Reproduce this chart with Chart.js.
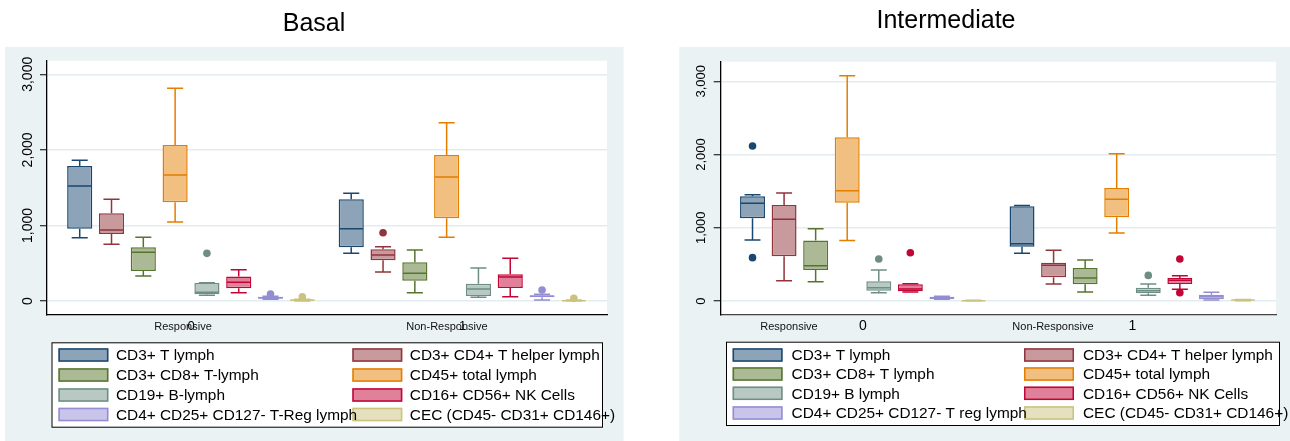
<!DOCTYPE html>
<html>
<head>
<meta charset="utf-8">
<script src="https://cdn.jsdelivr.net/npm/chart.js@4.4.1/dist/chart.umd.min.js"></script>
<style>
  html, body { margin: 0; padding: 0; background: #ffffff; }
  #wrap { position: relative; width: 1290px; height: 441px; overflow: hidden; }
  .panel { position: absolute; top: 0; width: 645px; height: 441px; }
</style>
</head>
<body>
<div id="wrap">
  <div class="panel" style="left:0"><canvas id="basal" width="645" height="441"></canvas></div>
  <div class="panel" style="left:645px"><canvas id="intermediate" width="645" height="441"></canvas></div>
</div>
<script>
// ---- categories and tick labels ----
const groupCodes = ['0', '1'];
const groupNames = ['Responsive', 'Non-Responsive'];
const yTickValues = [0, 1000, 2000, 3000];

const basalSeries = ['CD3+ T lymph', 'CD3+ CD4+ T helper lymph', 'CD3+ CD8+ T-lymph', 'CD45+ total lymph',
  'CD19+ B-lymph', 'CD16+ CD56+ NK Cells', 'CD4+ CD25+ CD127- T-Reg lymph', 'CEC (CD45- CD31+ CD146+)'];
const intermediateSeries = ['CD3+ T lymph', 'CD3+ CD4+ T helper lymph', 'CD3+ CD8+ T lymph', 'CD45+ total lymph',
  'CD19+ B lymph', 'CD16+ CD56+ NK Cells', 'CD4+ CD25+ CD127- T reg lymph', 'CEC (CD45- CD31+ CD146+)'];

// ---- box statistics: per group [lower whisker, Q1, median, Q3, upper whisker] ----
const basalCD3T   = [[838, 957, 1522, 1787, 1862], [631, 710, 957, 1345, 1425]];
const basalCD4Th  = [[750, 887, 940, 1160, 1345], [384, 538, 609, 684, 719]];
const basalCD8T   = [[331, 397, 644, 710, 843], [110, 269, 366, 512, 675]];
const basalCD45   = [[1045, 1306, 1667, 2064, 2814], [843, 1094, 1641, 1932, 2360]];
const basalCD19B  = [[75, 88, 115, 238, 243], [49, 66, 159, 229, 437]];
const basalNK     = [[110, 168, 247, 326, 415], [57, 172, 318, 353, 565]];
const basalTreg   = [[22, 30, 42, 55, 62], [13, 49, 62, 75, 88]];
const basalCEC    = [[0, 4, 12, 20, 25], [0, 0, 5, 9, 15]];
const basalOutliers = [[[], []], [[], [904]], [[], []], [[], []], [[631], []], [[], []], [[93], [146]], [[57], [35]]];

const interCD3T   = [[833, 1129, 1334, 1429, 1452], [651, 742, 783, 1293, 1306]];
const interCD4Th  = [[278, 610, 1115, 1311, 1475], [232, 323, 487, 523, 692]];
const interCD8T   = [[264, 423, 482, 828, 988], [123, 228, 314, 451, 560]];
const interCD45   = [[828, 1343, 1507, 2235, 3077], [929, 1143, 1388, 1543, 2012]];
const interCD19B  = [[114, 141, 182, 269, 423], [77, 105, 141, 182, 232]];
const interNK     = [[123, 132, 164, 228, 237], [159, 232, 282, 314, 346]];
const interTreg   = [[23, 28, 41, 59, 65], [14, 23, 59, 86, 118]];
const interCEC    = [[0, 2, 5, 8, 10], [5, 10, 14, 18, 22]];
const interOutliers = [[[2117, 592], []], [[], []], [[], []], [[], []], [[574], [350]], [[660], [574, 114]], [[], []], [[], []]];

const basalStats = [basalCD3T, basalCD4Th, basalCD8T, basalCD45, basalCD19B, basalNK, basalTreg, basalCEC];
const interStats = [interCD3T, interCD4Th, interCD8T, interCD45, interCD19B, interNK, interTreg, interCEC];

// ---- styling ----
const lineColors = ['#1a476f', '#90353b', '#55752f', '#e37e00', '#6e8e84', '#c10534', '#938dd2', '#cac27e'];
const fillColors = ['#8da3b8', '#c8999d', '#abba94', '#f1bf80', '#b8c8c2', '#e0809a', '#c9c5ea', '#e5e0be'];
const FONT = '"Liberation Sans", Arial, Helvetica, sans-serif';
const BG = '#eaf2f3';

function buildDatasets(labels, stats, outliers) {
  return labels.map((label, i) => ({
    label,
    data: stats[i].map((s, g) => ({ x: g, y: [s[1], s[3]] })),
    stats: stats[i],
    outliers: outliers[i],
    backgroundColor: fillColors[i],
    borderColor: lineColors[i],
    borderWidth: 1.5,
    borderSkipped: false,
    categoryPercentage: 0.937,
    barPercentage: 0.79
  }));
}

// whiskers, medians, outlying points, panel background, title and legend
const boxPlotPlugin = {
  id: 'boxPlot',
  beforeDraw(chart) {
    const p = chart.options.plugins.boxPlot;
    const { ctx, chartArea: a } = chart;
    ctx.save();
    ctx.fillStyle = BG;
    ctx.fillRect(p.panel[0], p.panel[1], p.panel[2], p.panel[3]);
    ctx.fillStyle = '#ffffff';
    ctx.fillRect(a.left, a.top, a.right - a.left, a.bottom - a.top);
    ctx.fillStyle = '#000';
    ctx.font = '25px ' + FONT;
    ctx.textAlign = 'center';
    ctx.textBaseline = 'alphabetic';
    ctx.fillText(p.title, p.titleAt[0], p.titleAt[1]);
    ctx.restore();
  },
  afterDatasetsDraw(chart) {
    const { ctx } = chart;
    const yScale = chart.scales.y;
    ctx.save();
    chart.data.datasets.forEach((ds, i) => {
      const meta = chart.getDatasetMeta(i);
      meta.data.forEach((bar, g) => {
        const [lo, q1, med, q3, hi] = ds.stats[g];
        const x = bar.x, w = bar.width, cap = w * 0.32;
        const py = v => yScale.getPixelForValue(v);
        ctx.strokeStyle = ds.borderColor;
        ctx.lineWidth = 1.5;
        ctx.beginPath();
        ctx.moveTo(x, py(q3)); ctx.lineTo(x, py(hi));
        ctx.moveTo(x - cap, py(hi)); ctx.lineTo(x + cap, py(hi));
        ctx.moveTo(x, py(q1)); ctx.lineTo(x, py(lo));
        ctx.moveTo(x - cap, py(lo)); ctx.lineTo(x + cap, py(lo));
        ctx.moveTo(x - w / 2 + 0.75, py(med)); ctx.lineTo(x + w / 2 - 0.75, py(med));
        ctx.stroke();
        ctx.fillStyle = ds.borderColor;
        ds.outliers[g].forEach(v => {
          ctx.beginPath();
          ctx.arc(x, py(v), 3.8, 0, Math.PI * 2);
          ctx.fill();
        });
      });
    });
    ctx.restore();
  },
  afterDraw(chart) {
    const p = chart.options.plugins.boxPlot;
    const { ctx } = chart;
    const xScale = chart.scales.x;
    ctx.save();
    // group names under the axis
    ctx.fillStyle = '#111';
    ctx.font = '11px ' + FONT;
    ctx.textAlign = 'center';
    ctx.textBaseline = 'middle';
    groupNames.forEach((name, g) => {
      ctx.fillText(name, xScale.getPixelForValue(p.groupNameAt[g]), p.groupNameY);
    });
    // legend
    const L = p.legend;
    ctx.fillStyle = '#ffffff';
    ctx.fillRect(L.box[0], L.box[1], L.box[2], L.box[3]);
    ctx.strokeStyle = '#000';
    ctx.lineWidth = 1;
    ctx.strokeRect(L.box[0] + 0.5, L.box[1] + 0.5, L.box[2], L.box[3]);
    const items = chart.data.datasets;
    const sw = 50, sh = 13.5;
    items.forEach((ds, i) => {
      const sx = L.cols[i % 2], cy = L.rows[Math.floor(i / 2)];
      ctx.fillStyle = ds.backgroundColor;
      ctx.fillRect(sx, cy - sh / 2, sw, sh);
      ctx.strokeStyle = ds.borderColor;
      ctx.lineWidth = 1.5;
      ctx.strokeRect(sx + 0.75, cy - sh / 2 + 0.75, sw - 1.5, sh - 1.5);
    });
    ctx.fillStyle = '#000';
    ctx.font = '15.4px ' + FONT;
    ctx.textAlign = 'left';
    ctx.textBaseline = 'middle';
    items.forEach((ds, i) => {
      const sx = L.cols[i % 2], cy = L.rows[Math.floor(i / 2)];
      ctx.fillText(ds.label, sx + L.textDx, cy + 1);
    });
    ctx.restore();
  }
};

function makeChart(id, cfg) {
  return new Chart(document.getElementById(id), {
    type: 'bar',
    data: { datasets: buildDatasets(cfg.series, cfg.stats, cfg.outliers) },
    plugins: [boxPlotPlugin],
    options: {
      responsive: false,
      devicePixelRatio: 1,
      animation: false,
      events: [],
      layout: { padding: { left: 0, top: cfg.area.top, right: cfg.area.right, bottom: 0 } },
      plugins: {
        legend: { display: false },
        title: { display: false },
        tooltip: { enabled: false },
        boxPlot: cfg.decor
      },
      scales: {
        x: {
          type: 'linear',
          min: cfg.xRange[0],
          max: cfg.xRange[1],
          offset: false,
          afterBuildTicks: s => { s.ticks = groupCodes.map((c, i) => ({ value: i })); },
          afterFit: s => { s.height = cfg.area.xHeight; },
          grid: { display: false, drawTicks: false },
          border: { display: true, color: cfg.xAxisColor, width: 1.3 },
          ticks: {
            includeBounds: false,
            padding: cfg.xTickPad,
            color: '#000',
            font: { family: FONT, size: cfg.xTickSize },
            callback: v => groupCodes[v]
          }
        },
        y: {
          type: 'linear',
          min: cfg.yRange[0],
          max: cfg.yRange[1],
          afterBuildTicks: s => { s.ticks = yTickValues.map(v => ({ value: v })); },
          afterFit: s => { s.width = cfg.area.left; },
          grid: { color: '#e3ecee', lineWidth: 1.5, tickColor: '#000', tickWidth: 1, tickLength: 7 },
          border: { display: true, color: '#000', width: 1.3 },
          ticks: {
            minRotation: 90,
            maxRotation: 90,
            crossAlign: 'center',
            padding: cfg.yTickPad,
            color: '#000',
            font: { family: FONT, size: cfg.yTickSize },
            callback: v => v.toLocaleString('en-US')
          }
        }
      }
    }
  });
}

makeChart('basal', {
  series: basalSeries,
  stats: basalStats,
  outliers: basalOutliers,
  area: { left: 47, top: 60.7, right: 38, xHeight: 126 },
  xRange: [-0.5304, 1.532],
  yRange: [-185, 3180],
  xTickPad: 4,
  xTickSize: 13,
  yTickPad: -5.8,
  yTickSize: 14,
  xAxisColor: '#000',
  decor: {
    panel: [5, 47, 618.5, 394],
    title: 'Basal',
    titleAt: [314, 31],
    groupNameAt: [-0.0295, 0.9426],
    groupNameY: 326.7,
    legend: { box: [51.5, 342.3, 550.5, 84.4], cols: [58.4, 352.3], rows: [355, 375, 395, 414.5], textDx: 57.5 }
  }
});

makeChart('intermediate', {
  series: intermediateSeries,
  stats: interStats,
  outliers: interOutliers,
  area: { left: 75.7, top: 61.7, right: 14, xHeight: 126 },
  xRange: [-0.528, 1.5325],
  yRange: [-191, 3268],
  xTickPad: 3,
  xTickSize: 14,
  yTickPad: -4.3,
  yTickSize: 13,
  xAxisColor: '#444',
  decor: {
    panel: [34.3, 47, 611, 394],
    title: 'Intermediate',
    titleAt: [301, 27.5],
    groupNameAt: [-0.2746, 0.705],
    groupNameY: 326.7,
    legend: { box: [81, 341.7, 553, 83.3], cols: [87.6, 379], rows: [355, 374, 393.3, 413], textDx: 59 }
  }
});
</script>
</body>
</html>
